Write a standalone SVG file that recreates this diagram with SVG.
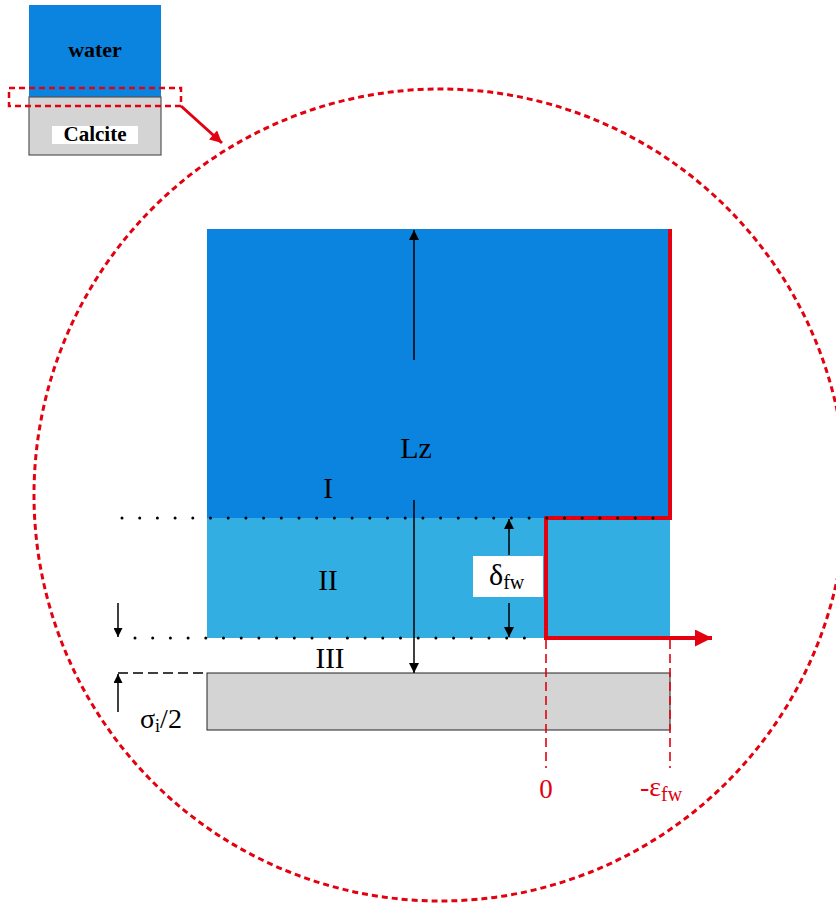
<svg xmlns="http://www.w3.org/2000/svg" width="836" height="906" viewBox="0 0 836 906">
<style>
.serif{font-family:"Liberation Serif","Times New Roman",serif;}
.red{fill:#E3000F;}
.dots{stroke:#000;stroke-width:3;stroke-linecap:round;stroke-dasharray:0 17.7;fill:none;}
.rdash{stroke:#E3000F;stroke-width:1.6;stroke-dasharray:9 5;fill:none;}
</style>
<defs>
<marker id="ah" viewBox="0 0 10 10" refX="10" refY="5" markerWidth="12" markerHeight="10" markerUnits="userSpaceOnUse" orient="auto-start-reverse">
<path d="M0,0 L10,5 L0,10 z" fill="#000"/>
</marker>
<marker id="ahs" viewBox="0 0 10 10" refX="10" refY="5" markerWidth="11" markerHeight="9" markerUnits="userSpaceOnUse" orient="auto-start-reverse">
<path d="M0,0 L10,5 L0,10 z" fill="#000"/>
</marker>
<marker id="rah" viewBox="0 0 10 10" refX="10" refY="5" markerWidth="24" markerHeight="17" markerUnits="userSpaceOnUse" orient="auto">
<path d="M0,0 L10,5 L0,10 z" fill="#E3000F"/>
</marker>
<marker id="rah2" viewBox="0 0 10 10" refX="10" refY="5" markerWidth="14" markerHeight="12" markerUnits="userSpaceOnUse" orient="auto">
<path d="M0,0 L10,5 L0,10 z" fill="#E3000F"/>
</marker>
</defs>

<rect width="836" height="906" fill="#fff"/>

<g id="inset">
<rect x="29" y="5" width="132" height="92" fill="#0A84DF"/>
<rect x="29" y="97" width="132" height="58" fill="#D4D4D4" stroke="#555" stroke-width="1.2"/>
<text x="95" y="57" class="serif" font-size="22" font-weight="bold" text-anchor="middle">water</text>
<rect x="52" y="126" width="86" height="18" fill="#fff"/>
<text x="95" y="141" class="serif" font-size="21" font-weight="bold" text-anchor="middle">Calcite</text>
<rect x="9" y="88" width="172" height="18" fill="none" stroke="#E3000F" stroke-width="2.5" stroke-dasharray="6 4"/>
</g>

<g id="zoom-circle">
<circle cx="440" cy="495" r="406" fill="none" stroke="#E3000F" stroke-width="3" stroke-dasharray="6 4"/>
</g>

<g id="region-I">
<rect x="207" y="229" width="463" height="289" fill="#0A84DF"/>
<text x="328" y="498" class="serif" font-size="29" text-anchor="middle">I</text>
<text x="416" y="458" class="serif" font-size="30" text-anchor="middle">Lz</text>
</g>

<g id="region-II">
<rect x="207" y="518" width="463" height="120" fill="#33AEE2"/>
<text x="328" y="590" class="serif" font-size="29" text-anchor="middle">II</text>
</g>

<g id="region-III">
<text x="330" y="668" class="serif" font-size="29" text-anchor="middle">III</text>
</g>

<g id="calcite">
<rect x="207" y="673" width="463" height="57" fill="#D4D4D4" stroke="#222" stroke-width="1"/>
</g>

<g id="delta-box">
<rect x="473" y="556" width="70" height="41" fill="#fff"/>
<text x="489" y="585" class="serif" font-size="30">δ<tspan font-size="20" dy="4">fw</tspan></text>
</g>

<g id="connectors">
<path d="M670,229 L670,518 L546,518 L546,638 L712,638" fill="none" stroke="#E3000F" stroke-width="4" marker-end="url(#rah)"/>
<line x1="122" y1="518" x2="670" y2="518" class="dots"/>
<line x1="135" y1="638" x2="540" y2="638" class="dots"/>
<line x1="414" y1="360" x2="414" y2="230" stroke="#000" stroke-width="1.5" marker-end="url(#ah)"/>
<line x1="414" y1="500" x2="414" y2="673" stroke="#000" stroke-width="1.5" marker-end="url(#ah)"/>
<line x1="509" y1="555" x2="509" y2="519" stroke="#000" stroke-width="1.5" marker-end="url(#ah)"/>
<line x1="509" y1="603" x2="509" y2="637" stroke="#000" stroke-width="1.5" marker-end="url(#ah)"/>
<line x1="118" y1="603" x2="118" y2="637" stroke="#000" stroke-width="1.5" marker-end="url(#ahs)"/>
<line x1="118" y1="712" x2="118" y2="674" stroke="#000" stroke-width="1.5" marker-end="url(#ahs)"/>
<line x1="118" y1="673" x2="207" y2="673" stroke="#000" stroke-width="1.5" stroke-dasharray="10 5"/>
<line x1="546" y1="640" x2="546" y2="768" class="rdash"/>
<line x1="670" y1="640" x2="670" y2="768" class="rdash"/>
<line x1="181" y1="106" x2="222" y2="143" stroke="#E3000F" stroke-width="3" marker-end="url(#rah2)"/>
</g>

<g id="labels">
<text x="140" y="728" class="serif" font-size="28">σ<tspan font-size="18" dy="4">i</tspan><tspan dy="-4">/2</tspan></text>
<text x="546" y="798" class="serif red" font-size="27" text-anchor="middle">0</text>
<text x="640" y="796" class="serif red" font-size="28">-ε<tspan font-size="20" dy="5">fw</tspan></text>
</g>
</svg>
